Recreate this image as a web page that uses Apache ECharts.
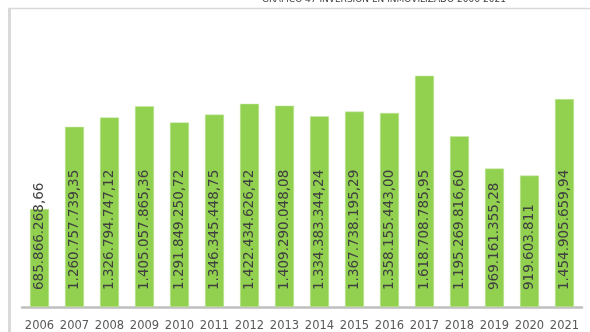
<!DOCTYPE html>
<html>
<head>
<meta charset="utf-8">
<script src="https://cdn.jsdelivr.net/npm/echarts@6/dist/echarts.min.js"></script>
<style>
  html, body { margin: 0; padding: 0; background: #fff; }
  #chart { width: 590px; height: 332px; }
</style>
</head>
<body>
<div id="chart"></div>
<script>
// Inversión en inmovilizado por año (euros)
const years = ['2006', '2007', '2008', '2009', '2010', '2011', '2012', '2013',
               '2014', '2015', '2016', '2017', '2018', '2019', '2020', '2021'];
const inversion = [685866268.66, 1260757739.35, 1326794747.12, 1405057865.36,
                   1291849250.72, 1346345448.75, 1422434626.42, 1409290048.08,
                   1334383344.24, 1367738195.29, 1358155443.00, 1618708785.95,
                   1195269816.60, 969161355.28, 919603811, 1454905659.94];
// decimales mostrados en cada etiqueta
const decimales = [2, 2, 2, 2, 2, 2, 2, 2, 2, 2, 2, 2, 2, 2, 0, 2];
const titulo = 'GRÁFICO 47 INVERSIÓN EN INMOVILIZADO 2006-2021';

function formatoES(v, dec) {
  const parts = v.toFixed(dec).split('.');
  const ent = parts[0].replace(/\B(?=(\d{3})+(?!\d))/g, '.');
  return dec > 0 ? ent + ',' + parts[1] : ent;
}

const chart = echarts.init(document.getElementById('chart'), null, { renderer: 'canvas' });
chart.setOption({
  animation: false,
  backgroundColor: '#ffffff',
  graphic: [
    { type: 'line', shape: { x1: 8, y1: 8.5, x2: 590, y2: 8.5 },
      style: { stroke: '#d9d9d9', lineWidth: 1.5 } },
    { type: 'line', shape: { x1: 9.5, y1: 8, x2: 9.5, y2: 332 },
      style: { stroke: '#d9d9d9', lineWidth: 3 } },
    { type: 'text', x: 262, y: 4.5,
      style: { text: titulo, fill: '#404040', font: '9px "DejaVu Sans"',
               verticalAlign: 'bottom', align: 'left' } }
  ],
  grid: { left: 22, right: 8, top: 49.8, bottom: 23 },
  xAxis: {
    type: 'category',
    data: years,
    axisLine: { lineStyle: { color: '#bfbfbf', width: 2.5 } },
    axisTick: { show: false },
    axisLabel: { color: '#595959', fontFamily: 'DejaVu Sans', fontSize: 11.5, margin: 13, interval: 0 }
  },
  yAxis: {
    type: 'value',
    min: 0,
    max: 1800000000,
    show: false,
    splitLine: { show: false }
  },
  series: [{
    type: 'bar',
    data: inversion,
    barWidth: 19,
    itemStyle: { color: '#92d050', borderColor: '#c6e8a6', borderWidth: 0.5 },
    label: {
      show: true,
      position: 'insideBottom',
      rotate: 90,
      align: 'left',
      verticalAlign: 'middle',
      distance: 17,
      color: '#404040',
      fontFamily: 'DejaVu Sans',
      fontSize: 13.5,
      formatter: p => formatoES(p.value, decimales[p.dataIndex])
    }
  }]
});
</script>
</body>
</html>
